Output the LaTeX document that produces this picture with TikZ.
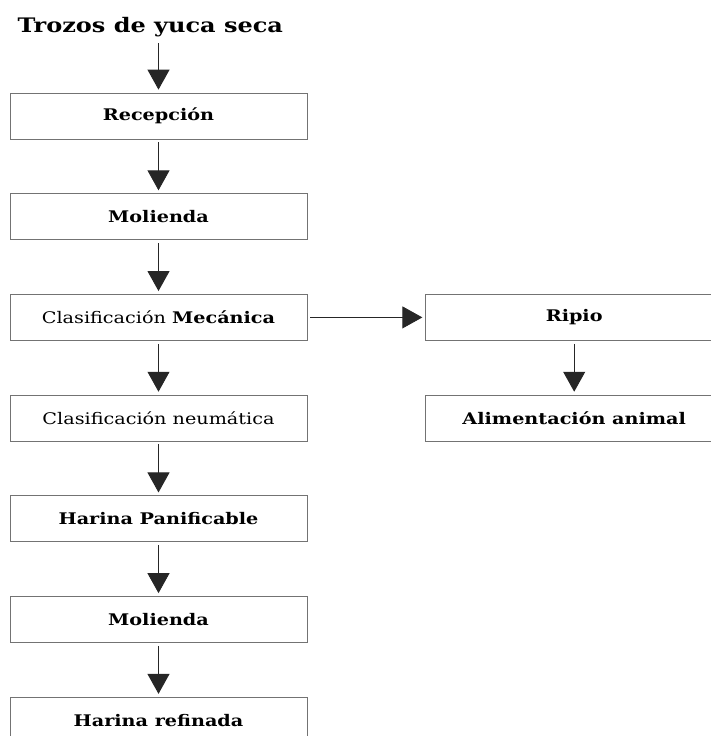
\documentclass[tikz,border=0pt]{standalone}
\usepackage{fontspec}
\setmainfont{DejaVu Serif}
\usetikzlibrary{positioning,arrows.meta}
\newcommand{\widetxt}[1]{\scalebox{1.2}[1]{#1}}

\begin{document}
\begin{tikzpicture}[x=1pt,y=-1pt,
box/.style={draw=black!55,line width=.7pt,rectangle,minimum width=297pt,minimum height=46pt,
    font=\fontsize{16}{19}\selectfont\bfseries},
flow/.style={draw=black!85,line width=.9pt,-{Triangle[width=22pt,length=20pt]},
    shorten <=3pt,shorten >=3pt},
node distance=54pt]
\useasboundingbox (0,0) rectangle (710,736);
\node (title) [anchor=west,font=\fontsize{20}{24}\selectfont\bfseries] at (14,27) {\widetxt{Trozos de yuca seca}};
\node (recep) [box] at (158.5,116) {\widetxt{Recepción}};
\node (mol1) [box,below=of recep] {\widetxt{Molienda}};
\node (clasm) [box,below=of mol1] {\widetxt{\mdseries Clasificación \bfseries Mecánica}};
\node (clasn) [box,below=of clasm] {\widetxt{\mdseries Clasificación neumática}};
\node (panif) [box,below=of clasn] {\widetxt{Harina Panificable}};
\node (mol2) [box,below=of panif] {\widetxt{Molienda}};
\node (refin) [box,below=of mol2] {\widetxt{Harina refinada}};
\node (ripio) [box,right=118pt of clasm] {\widetxt{Ripio}};
\node (alim) [box,below=of ripio] {\widetxt{Alimentación animal}};
\draw[flow] (recep.north |- title.south) -- (recep);
\draw[flow] (recep) -- (mol1);
\draw[flow] (mol1) -- (clasm);
\draw[flow] (clasm) -- (clasn);
\draw[flow] (clasn) -- (panif);
\draw[flow] (panif) -- (mol2);
\draw[flow] (mol2) -- (refin);
\draw[flow] (clasm) -- (ripio);
\draw[flow] (ripio) -- (alim);
\end{tikzpicture}
\end{document}
